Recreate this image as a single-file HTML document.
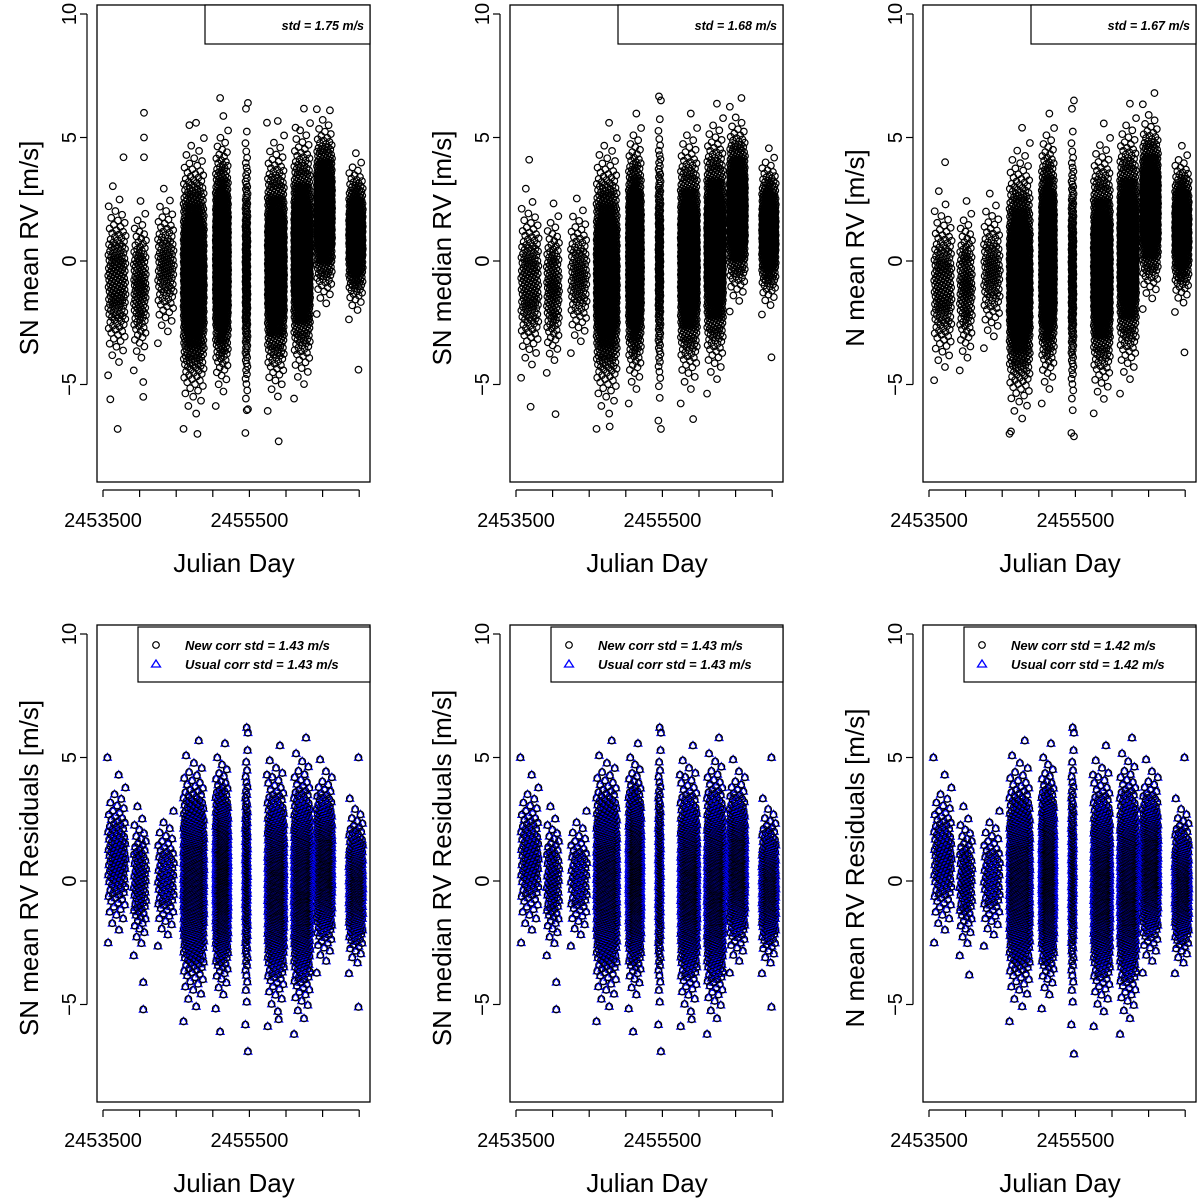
<!DOCTYPE html>
<html><head><meta charset="utf-8"><style>
html,body{margin:0;padding:0;background:#fff}
svg{display:block;font-family:"Liberation Sans",Arial,sans-serif}
</style></head><body>
<svg id="fig" width="1200" height="1203" viewBox="0 0 1200 1203"></svg>
<script>
// ---- data (per observing season) ----
const seasonStart = [2453570,2453920,2454250,2454600,2455040,2455445,2455750,2456110,2456420,2456860];
const seasonEnd   = [2453810,2454090,2454470,2454880,2455210,2455475,2455975,2456330,2456630,2457050];
const seasonCount = [160,120,110,900,900,160,900,900,700,450];
const meanSNmean   = [-0.8,-1.0,-0.2,-0.6,0.0,-0.4,-0.2,0.3,2.0,1.0];
const meanSNmedian = [-0.9,-1.1,-0.6,-0.6,0.1,0.1,0.1,0.5,2.1,1.2];
const meanNmean    = [-1.0,-1.0,-0.4,-0.8,0.1,-0.4,-0.3,0.5,2.2,1.3];
const meanResid    = [0.9,0.0,0.1,0.0,0.2,0.2,-0.2,-0.2,0.6,-0.2];
const seasonSd     = [1.4,1.3,1.2,1.9,1.8,2.4,1.8,1.8,1.3,1.1];
const seasonSdRes  = [1.3,1.2,1.1,1.8,1.7,2.3,1.8,1.9,1.4,1.2];
const yTicks = [-5,0,5,10];
const xTickVals = [2453500,2454000,2454500,2455000,2455500,2456000,2456500,2457000];
const xTickLabels = ["2453500","2455500"];
const stdTop = ["1.75","1.68","1.67"];
const stdNew = ["1.43","1.43","1.42"];
const stdUsual = ["1.43","1.43","1.42"];
const yTitlesTop = ["SN mean RV [m/s]","SN median RV [m/s]","N mean RV [m/s]"];
const yTitlesBot = ["SN mean RV Residuals [m/s]","SN median RV Residuals [m/s]","N mean RV Residuals [m/s]"];
// outliers [jd, value]
const outTop0 = [[2453780,4.2],[2453600,-5.6],[2453700,-6.8],[2454060,6.0],[2454060,5.0],[2454060,4.2],[2454050,-4.9],[2454050,-5.5],[2454680,5.5],[2454790,-7.0],[2455100,6.6],[2455480,6.4],[2455480,-6.0],[2455740,5.6],[2455900,-7.3],[2456130,5.4],[2456600,6.1],[2456990,-4.4]];
const outTop1 = [[2453680,4.1],[2453700,-5.9],[2454040,-6.2],[2454780,-6.7],[2455480,6.5],[2455480,-6.8],[2455920,-6.4],[2456580,6.6],[2456990,-3.9]];
const outTop2 = [[2453720,4.0],[2454620,-6.9],[2455480,6.5],[2455480,-7.1],[2456580,6.8],[2456990,-3.7]];
const outBot0 = [[2453560,5.0],[2454050,-4.1],[2454050,-5.2],[2455100,-6.1],[2455480,6.0],[2455480,-6.9],[2455740,4.3],[2455900,-5.6],[2456990,5.0],[2456990,-5.1]];
const outBot1 = [[2453560,5.0],[2454050,-4.1],[2454050,-5.2],[2455100,-6.1],[2455480,6.0],[2455480,-6.9],[2455740,4.3],[2455900,-5.6],[2456990,5.0],[2456990,-5.1]];
const outBot2 = [[2453560,5.0],[2454050,-3.8],[2455480,6.0],[2455480,-7.0],[2455740,4.3],[2456990,5.0]];

const NS="http://www.w3.org/2000/svg";
const svg=document.getElementById('fig');
function mk(t,a,p){const e=document.createElementNS(NS,t);for(const k in a)e.setAttribute(k,a[k]);(p||svg).appendChild(e);return e;}
function qn(p){const a=[-39.696830,220.946098,-275.928510,138.357751,-30.664798,2.506628],b=[-54.476098,161.585836,-155.698979,66.801311,-13.280681],c=[-0.007784894,-0.32239645,-2.400758,-2.549732,4.374664,2.938163],d=[0.007784695,0.32246712,2.445134,3.754408];
 if(p<0.02425){const q=Math.sqrt(-2*Math.log(p));return(((((c[0]*q+c[1])*q+c[2])*q+c[3])*q+c[4])*q+c[5])/((((d[0]*q+d[1])*q+d[2])*q+d[3])*q+1);}
 if(p>1-0.02425){const q=Math.sqrt(-2*Math.log(1-p));return-(((((c[0]*q+c[1])*q+c[2])*q+c[3])*q+c[4])*q+c[5])/((((d[0]*q+d[1])*q+d[2])*q+d[3])*q+1);}
 const q=p-0.5,r=q*q;return(((((a[0]*r+a[1])*r+a[2])*r+a[3])*r+a[4])*r+a[5])*q/(((((b[0]*r+b[1])*r+b[2])*r+b[3])*r+b[4])*r+1);}

function panel(ox,oy,means,sds,outs,yTitle,bottom,pi){
 const g=mk('g',{});
 const xs=v=>ox+103+(v-2453500)/500*36.6;
 const ys=v=>oy+261-v*24.7;
 const L=ox+97,R=ox+370,T=oy+5,B=oy+482;
 const pts=mk('g',{},g);
 const draw=(x,y)=>{
   if(bottom){const t=mk('path',{d:`M${x},${y-4.2}L${x+4},${y+2.8}L${x-4},${y+2.8}Z`,fill:'none',stroke:'#00f','stroke-width':1.1},pts);
     }
   const c=mk('circle',{cx:x,cy:y,r:3.3,fill:'none',stroke:'#000','stroke-width':1.2},pts);
   
 };
 for(let s=0;s<seasonStart.length;s++){
   const n=Math.round(seasonCount[s]*(bottom?0.7:1));
   for(let i=0;i<n;i++){
     const f=(i*0.618034)%1;
     const jd=seasonStart[s]+f*(seasonEnd[s]-seasonStart[s]);
     let v=means[s]+sds[s]*qn((i+0.5)/n);
     v=Math.max(-7.5,Math.min(7,v));
     draw(xs(jd),ys(v));
   }
 }
 outs.forEach(o=>draw(xs(o[0]),ys(o[1])));
 mk('rect',{x:L,y:T,width:R-L,height:B-T,fill:'none',stroke:'#000','stroke-width':1.3,},g);
 const ya=mk('g',{},g);
 mk('line',{x1:ox+87,x2:ox+87,y1:ys(-5),y2:ys(10),stroke:'#000','stroke-width':1.2},ya);
 yTicks.forEach(v=>{mk('line',{x1:ox+80,x2:ox+87,y1:ys(v),y2:ys(v),stroke:'#000','stroke-width':1.2},ya);
  const t=mk('text',{x:ox+76,y:ys(v),'font-size':20,'text-anchor':'middle',transform:`rotate(-90 ${ox+76} ${ys(v)})`},ya);
  t.textContent=v<0?'\u2212'+(-v):String(v);});
 const xa=mk('g',{},g);
 mk('line',{x1:xs(xTickVals[0]),x2:xs(xTickVals[xTickVals.length-1]),y1:oy+490,y2:oy+490,stroke:'#000','stroke-width':1.2},xa);
 xTickVals.forEach(v=>mk('line',{x1:xs(v),x2:xs(v),y1:oy+490,y2:oy+497,stroke:'#000','stroke-width':1.2},xa));
 [2453500,2455500].forEach((v,i)=>{const t=mk('text',{x:xs(v),y:oy+527,'font-size':20,'text-anchor':'middle'},xa);t.textContent=xTickLabels[i];});
 const xt=mk('text',{x:ox+234,y:oy+572,'font-size':26,'text-anchor':'middle',},g);xt.textContent='Julian Day';
 const yt=mk('text',{x:ox+38,y:oy+248,'font-size':26,'text-anchor':'middle',transform:`rotate(-90 ${ox+38} ${oy+248})`,},g);yt.textContent=yTitle;
 const lg=mk('g',{},g);
 if(!bottom){
   mk('rect',{x:ox+205,y:T,width:R-ox-205,height:39,fill:'#fff',stroke:'#000','stroke-width':1.2},lg);
   const t=mk('text',{x:ox+364,y:oy+30,'font-size':12.5,'font-weight':'bold','font-style':'italic','text-anchor':'end'},lg);
   t.textContent='std =  '+stdTop[pi]+' m/s';
 } else {
   mk('rect',{x:ox+138,y:oy+7,width:R-ox-138,height:55,fill:'#fff',stroke:'#000','stroke-width':1.2},lg);
   mk('circle',{cx:ox+156,cy:oy+25,r:3.3,fill:'none',stroke:'#000','stroke-width':1.2},lg);
   mk('path',{d:`M${ox+156},${oy+40}L${ox+160.5},${oy+47}L${ox+151.5},${oy+47}Z`,fill:'none',stroke:'#00f','stroke-width':1.3},lg);
   const t1=mk('text',{x:ox+185,y:oy+30,'font-size':13,'font-weight':'bold','font-style':'italic'},lg);t1.textContent='New corr std =  '+stdNew[pi]+' m/s';
   const t2=mk('text',{x:ox+185,y:oy+49,'font-size':13,'font-weight':'bold','font-style':'italic'},lg);t2.textContent='Usual corr std =  '+stdUsual[pi]+' m/s';
 }
}
const topMeans=[meanSNmean,meanSNmedian,meanNmean];
const topOuts=[outTop0,outTop1,outTop2];
const botOuts=[outBot0,outBot1,outBot2];
for(let i=0;i<3;i++){
 panel(i*413,0,topMeans[i],seasonSd,topOuts[i],yTitlesTop[i],false,i);
 panel(i*413,620,meanResid,seasonSdRes,botOuts[i],yTitlesBot[i],true,i);
}
</script>
</body></html>
